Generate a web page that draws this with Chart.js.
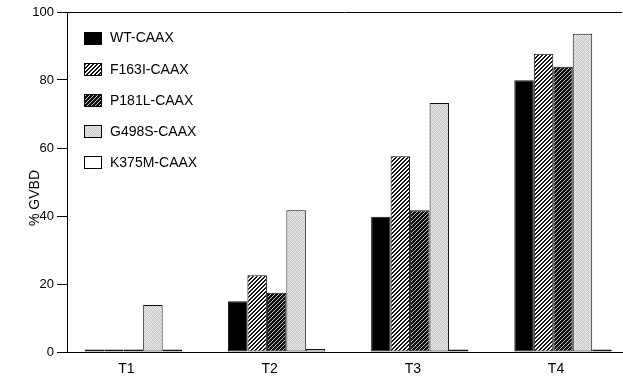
<!DOCTYPE html>
<html>
<head>
<meta charset="utf-8">
<script src="https://cdn.jsdelivr.net/npm/chart.js@4/dist/chart.umd.min.js"></script>
<style>
  html, body { margin: 0; padding: 0; background: #fff; }
  #wrap { width: 623px; height: 380px; }
</style>
</head>
<body>
<div id="wrap"><canvas id="c" width="623" height="380"></canvas></div>
<script>
// ---- data ----
const categories = ['T1', 'T2', 'T3', 'T4'];
const seriesNames = ['WT-CAAX', 'F163I-CAAX', 'P181L-CAAX', 'G498S-CAAX', 'K375M-CAAX'];
const wt    = [0.7, 14.9, 39.8, 79.9];
const f163i = [0.7, 22.6, 57.6, 87.7];
const p181l = [0.7, 17.4, 41.7, 83.9];
const g498s = [13.8, 41.7, 73.2, 93.6];
const k375m = [0.7, 0.9, 0.7, 0.7];
const yTicks = [0, 20, 40, 60, 80, 100];
const yTitle = '% GVBD';

// ---- fill patterns ----
function makePattern(fn) {
  const c = document.createElement('canvas');
  c.width = 4; c.height = 4;
  const ctx = c.getContext('2d');
  const img = ctx.createImageData(4, 4);
  for (let y = 0; y < 4; y++) for (let x = 0; x < 4; x++) {
    const v = fn(x, y); const i = (y * 4 + x) * 4;
    img.data[i] = v; img.data[i+1] = v; img.data[i+2] = v; img.data[i+3] = 255;
  }
  ctx.putImageData(img, 0, 0);
  return ctx.createPattern(c, 'repeat');
}
const stip = [[222,198,232,210],[206,236,196,226],[232,212,220,200],[196,226,206,236]];
const fills = [
  '#000000',
  makePattern((x, y) => ((x + y) % 4 < 2 ? 20 : 255)),
  makePattern((x, y) => ((x + y) % 4 === 0 ? 190 : 15)),
  makePattern((x, y) => stip[y][x]),
  '#ffffff'
];
const allSeries = [wt, f163i, p181l, g498s, k375m];

const datasets = allSeries.map((vals, s) => ({
  label: seriesNames[s],
  data: vals.map((v, i) => ({ x: i + 1, y: v })),
  backgroundColor: fills[s],
  borderColor: '#111',
  borderWidth: 1,
  borderSkipped: false,
  categoryPercentage: 0.68,
  barPercentage: 1.0
}));

const FONT = "'Liberation Sans', Arial, Helvetica, sans-serif";
Chart.defaults.font.family = FONT;
Chart.defaults.color = '#000';

const framePlugin = {
  id: 'frame',
  afterDraw(chart) {
    const { ctx, chartArea } = chart;
    ctx.save();
    // top frame line
    ctx.strokeStyle = '#000';
    ctx.lineWidth = 1;
    ctx.beginPath();
    ctx.moveTo(chartArea.left, Math.round(chartArea.top) + 0.5);
    ctx.lineTo(chartArea.right, Math.round(chartArea.top) + 0.5);
    ctx.stroke();
    // y axis title
    ctx.save();
    ctx.translate(35.5, 198);
    ctx.rotate(-Math.PI / 2);
    ctx.font = '14px ' + FONT;
    ctx.textAlign = 'center';
    ctx.textBaseline = 'middle';
    ctx.fillStyle = '#000';
    ctx.fillText(yTitle, 0, 0);
    ctx.restore();
    // legend inside plot
    ctx.font = '14px ' + FONT;
    ctx.textBaseline = 'middle';
    ctx.textAlign = 'left';
    chart.data.datasets.forEach((ds, i) => {
      const cy = 38 + i * 31.2;
      const bx = 84, bw = 18, bh = 13;
      ctx.fillStyle = ds.backgroundColor;
      ctx.fillRect(bx, Math.round(cy - bh / 2), bw, bh);
      ctx.strokeStyle = '#000';
      ctx.strokeRect(bx + 0.5, Math.round(cy - bh / 2) + 0.5, bw - 1, bh - 1);
      ctx.fillStyle = '#000';
      ctx.fillText(ds.label, 110, cy + 0.5);
    });
    ctx.restore();
  }
};

new Chart(document.getElementById('c'), {
  type: 'bar',
  data: { datasets },
  plugins: [framePlugin],
  options: {
    responsive: false,
    animation: false,
    devicePixelRatio: 1,
    layout: { padding: { top: 12, right: 1, left: 0, bottom: 0 } },
    plugins: { legend: { display: false }, tooltip: { enabled: false } },
    scales: {
      x: {
        type: 'linear',
        offset: false,
        min: 0.536,
        max: 4.412,
        afterBuildTicks(scale) { scale.ticks = categories.map((c, i) => ({ value: i + 1 })); },
        afterFit(scale) { scale.height = 28; },
        grid: { display: false, drawTicks: false },
        border: { display: true, color: '#000', width: 1 },
        ticks: {
          padding: 9,
          labelOffset: -7,
          font: { size: 14 },
          color: '#000',
          callback: (v) => categories[Math.round(v) - 1] || ''
        }
      },
      y: {
        min: 0,
        max: 100,
        afterBuildTicks(scale) { scale.ticks = yTicks.map(v => ({ value: v })); },
        afterFit(scale) { scale.width = 67; },
        grid: { display: true, drawOnChartArea: false, drawTicks: true, tickLength: 10, color: '#000', lineWidth: 1 },
        border: { display: true, color: '#000', width: 1 },
        ticks: { padding: 3, font: { size: 13 }, color: '#000' },
        title: { display: false }
      }
    }
  }
});
</script>
</body>
</html>
